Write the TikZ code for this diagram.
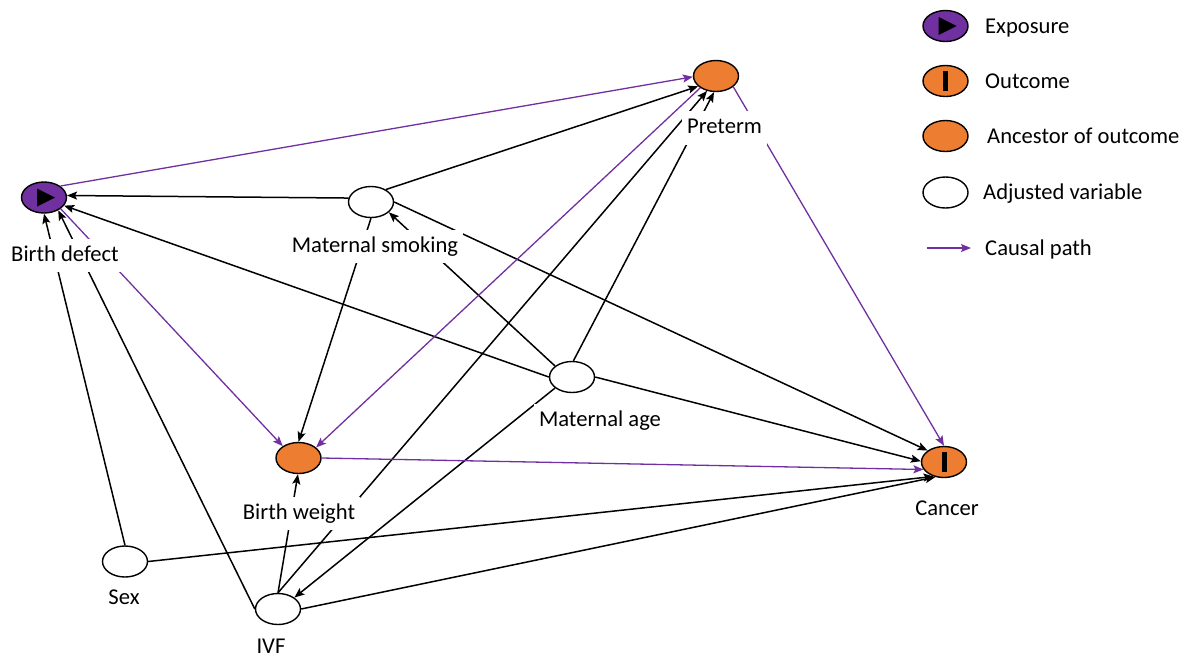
\documentclass[tikz,border=0pt]{standalone}
\usepackage{fontspec}
\setmainfont{Carlito}
\usetikzlibrary{arrows.meta,shapes.geometric}
\definecolor{expocol}{HTML}{7030A0}
\definecolor{anccol}{HTML}{ED7D31}
\definecolor{cpath}{HTML}{7030A0}
\tikzset{
  expomark/.pic={\fill[black] (-7,-9) -- (11,0) -- (-7,9) -- cycle;},
  outmark/.pic={\fill[black] (-2.5,-10) rectangle (2.5,10);}
}
\begin{document}
\begin{tikzpicture}[x=1pt,y=-1pt,
  var/.style={ellipse,draw=black,line width=1.4pt,minimum width=45pt,minimum height=31pt,inner sep=0pt},
  expnode/.style={var,fill=expocol},
  ancnode/.style={var,fill=anccol},
  adjnode/.style={var,fill=white},
  lab/.style={font=\fontsize{22.6}{26}\selectfont,fill=white,inner xsep=5pt,inner ysep=6pt,text height=16.5pt,text depth=5pt,anchor=base},
  plainlab/.style={font=\fontsize{22.6}{26}\selectfont,inner sep=0pt,anchor=base},
  leg/.style={font=\fontsize{22.6}{26}\selectfont,anchor=base west,inner sep=0pt},
  arr/.style={draw=black,line width=1.5pt,-{Stealth[length=10pt,width=8pt,inset=2pt]}},
  carr/.style={draw=cpath,line width=1.3pt,-{Stealth[length=10pt,width=8pt,inset=2pt]}}
]
\useasboundingbox (0,0) rectangle (1186,657);

% variables
\node[expnode] (bd) at (44,197.5) {};
\pic at (bd) {expomark};
\node[adjnode] (ms) at (371,202) {};
\node[ancnode] (pt) at (716,76) {};
\node[adjnode] (ma) at (572,377) {};
\node[ancnode] (bw) at (298.5,458) {};
\node[ancnode] (ca) at (944,462) {};
\pic at (ca) {outmark};
\node[adjnode] (sex) at (125,561.5) {};
\node[adjnode] (ivf) at (278,609) {};

% black edges
\draw[arr] (ms.170) -- (bd.5);
\draw[arr] (ms.40) -- (pt.210);
\draw[arr] (ms.east) -- (ca.145);
\draw[arr] (ms.south) -- (bw.north);
\draw[arr] (ma.147) -- (ms.330);
\draw[arr] (ma.west) -- (bd.338);
\draw[arr] (ma.85) -- (pt.263);
\draw[arr] (ma.east) -- (ca.178);
\draw[arr] (ma.213) -- (ivf.35);
\draw[arr] (ivf.west) -- (bd.318);
\draw[arr] (ivf.north) -- (bw.268);
\draw[arr] (ivf.north) -- (pt.239);
\draw[arr] (ivf.east) -- (ca.240);
\draw[arr] (sex.north) -- (bd.south);
\draw[arr] (sex.east) -- (ca.234);

% causal paths
\draw[carr] (bd.35) -- (pt.182);
\draw[carr] (bd.326) -- (bw.143);
\draw[carr] (pt.217) -- (bw.31);
\draw[carr] (pt.328) -- (ca.north);
\draw[carr] (bw.east) -- (ca.200);

% labels
\node[lab] (bdl) at (65,261) {Birth defect};
\node[lab] (msl) at (375,252) {Maternal smoking};
\node[lab] (ptl) at (724.5,133.5) {Preterm};
\node[lab] (mal) at (600,426) {Maternal age};
\node[lab] (bwl) at (299,519) {Birth weight};
\node[lab] (cal) at (947,515) {Cancer};
\node[lab] (sexl) at (124,604) {Sex};
\node[plainlab] (ivfl) at (271,653.5) {IVF};

% legend
\node[expnode] (le) at (945.5,26) {};
\pic at (le) {expomark};
\node[ancnode] (lo) at (945.5,81) {};
\pic at (lo) {outmark};
\node[ancnode] (lan) at (945.5,136) {};
\node[adjnode] (lad) at (945.5,192.5) {};
\coordinate (la) at (927,248);
\coordinate (lb) at (971,248);
\draw[carr] (la) -- (lb);
\node[leg] (t1) at (985,33.3) {Exposure};
\node[leg] (t2) at (985,88.3) {Outcome};
\node[leg] (t3) at (987,143.3) {Ancestor of outcome};
\node[leg] (t4) at (983,199.3) {Adjusted variable};
\node[leg] (t5) at (985,255) {Causal path};
\end{tikzpicture}
\end{document}
